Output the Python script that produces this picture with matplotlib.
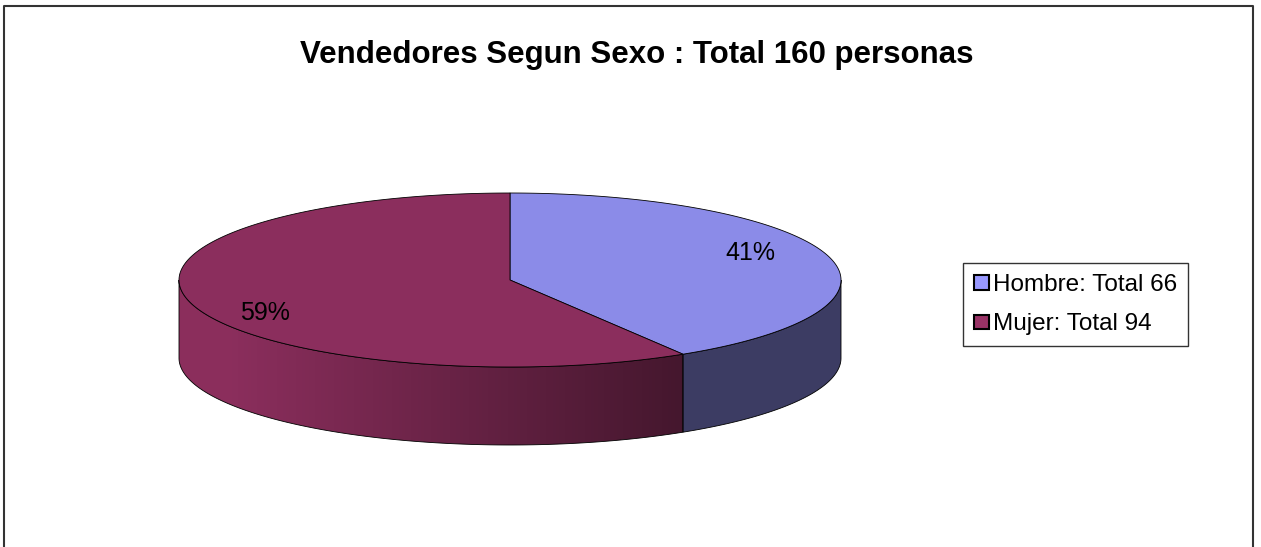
import numpy as np
import matplotlib
matplotlib.use("Agg")
import matplotlib.pyplot as plt
from matplotlib.patches import Polygon, Patch
from matplotlib.colors import to_rgb

plt.rcParams['font.family'] = ['Liberation Sans', 'DejaVu Sans']

# data
title = "Vendedores Segun Sexo : Total 160 personas"
categories = ["Hombre", "Mujer"]
values = [66, 94]
base_colors = ["#9999ff", "#993366"]

W, H = 1261, 547
fig = plt.figure(figsize=(W / 100, H / 100), dpi=100)
ax = fig.add_axes([0, 0, 1, 1])
ax.set_xlim(0, W)
ax.set_ylim(H, 0)
ax.axis("off")

# ellipse geometry (pixel space)
cx, cy = 510, 280
a, b = 331, 87
depth = 78


def arc(t1, t2, dz=0, n=200):
    t = np.radians(np.linspace(t1, t2, n))
    return np.column_stack([cx + a * np.cos(t), cy - b * np.sin(t) + dz])


def shade(c, f):
    return tuple(min(1, v * f) for v in to_rgb(c))


total = sum(values)
fracs = [v / total for v in values]
starts = []
ang = 90.0
for f in fracs:
    starts.append((ang, ang - f * 360))
    ang -= f * 360

# side walls (only front half 180..360 visible)
for i, (t1, t2) in enumerate(starts):
    lo, hi = sorted([t1, t2])
    while hi < 180:
        lo += 360
        hi += 360
    s1, s2 = max(lo, 180), min(hi, 360)
    if s2 <= s1:
        continue
    top = arc(s1, s2)
    bot = arc(s2, s1, depth)
    verts = np.vstack([top, bot])
    if i == 1:
        poly = Polygon(verts, closed=True, facecolor="none", edgecolor="black", lw=0.6, zorder=3)
        ax.add_patch(poly)
        c1 = np.array(shade(base_colors[i], 0.91))
        c2 = np.array(shade(base_colors[i], 0.45))
        x0, x1 = verts[:, 0].min(), verts[:, 0].max()
        y0, y1 = verts[:, 1].min(), verts[:, 1].max()
        g = np.linspace(0, 1, 256)
        g = np.clip((g - 0.1) / 0.9, 0, 1)
        img = (c1[None, :] * (1 - g[:, None]) + c2[None, :] * g[:, None])[None, :, :]
        im = ax.imshow(img, extent=[x0, x1, y1, y0], aspect="auto", zorder=2)
        im.set_clip_path(poly)
    else:
        ax.add_patch(Polygon(verts, closed=True, facecolor=shade(base_colors[i], 0.39),
                             edgecolor="black", lw=0.6, zorder=3))

# top faces
for i, (t1, t2) in enumerate(starts):
    verts = np.vstack([[cx, cy], arc(t1, t2)])
    ax.add_patch(Polygon(verts, closed=True, facecolor=shade(base_colors[i], 0.91),
                         edgecolor="black", lw=0.6, zorder=4))

# percentage labels
nudges = [(1, -9), (-6, 15)]
for i, (t1, t2) in enumerate(starts):
    mid = np.radians((t1 + t2) / 2)
    x = cx + 0.75 * a * np.cos(mid) + nudges[i][0]
    y = cy - 0.75 * b * np.sin(mid) + nudges[i][1]
    ax.text(x, y, f"{fracs[i] * 100:.0f}%", fontsize=18, ha="center", va="center", zorder=5)

# title
ax.text(637, 63, title, fontsize=22.5, fontweight="bold", ha="center", va="baseline")

# legend
handles = [Patch(facecolor=c, edgecolor="black", lw=1.5) for c in base_colors]
labels = [f"{c}: Total {v}" for c, v in zip(categories, values)]
leg = ax.legend(handles, labels, loc="upper left", bbox_to_anchor=(963, 263),
                bbox_transform=ax.transData, fontsize=17.5, frameon=True, fancybox=False,
                handlelength=0.6, handleheight=0.55, handletextpad=0.2,
                labelspacing=0.72, borderpad=0.45, borderaxespad=0)
leg.get_frame().set_edgecolor("black")
leg.get_frame().set_linewidth(1)

# outer chart frame
ax.plot([3.5, 3.5, 1253, 1253], [H + 5, 6, 6, H + 5], color="#333333", lw=1.5, clip_on=False)

fig.savefig("out.png", dpi=100)
